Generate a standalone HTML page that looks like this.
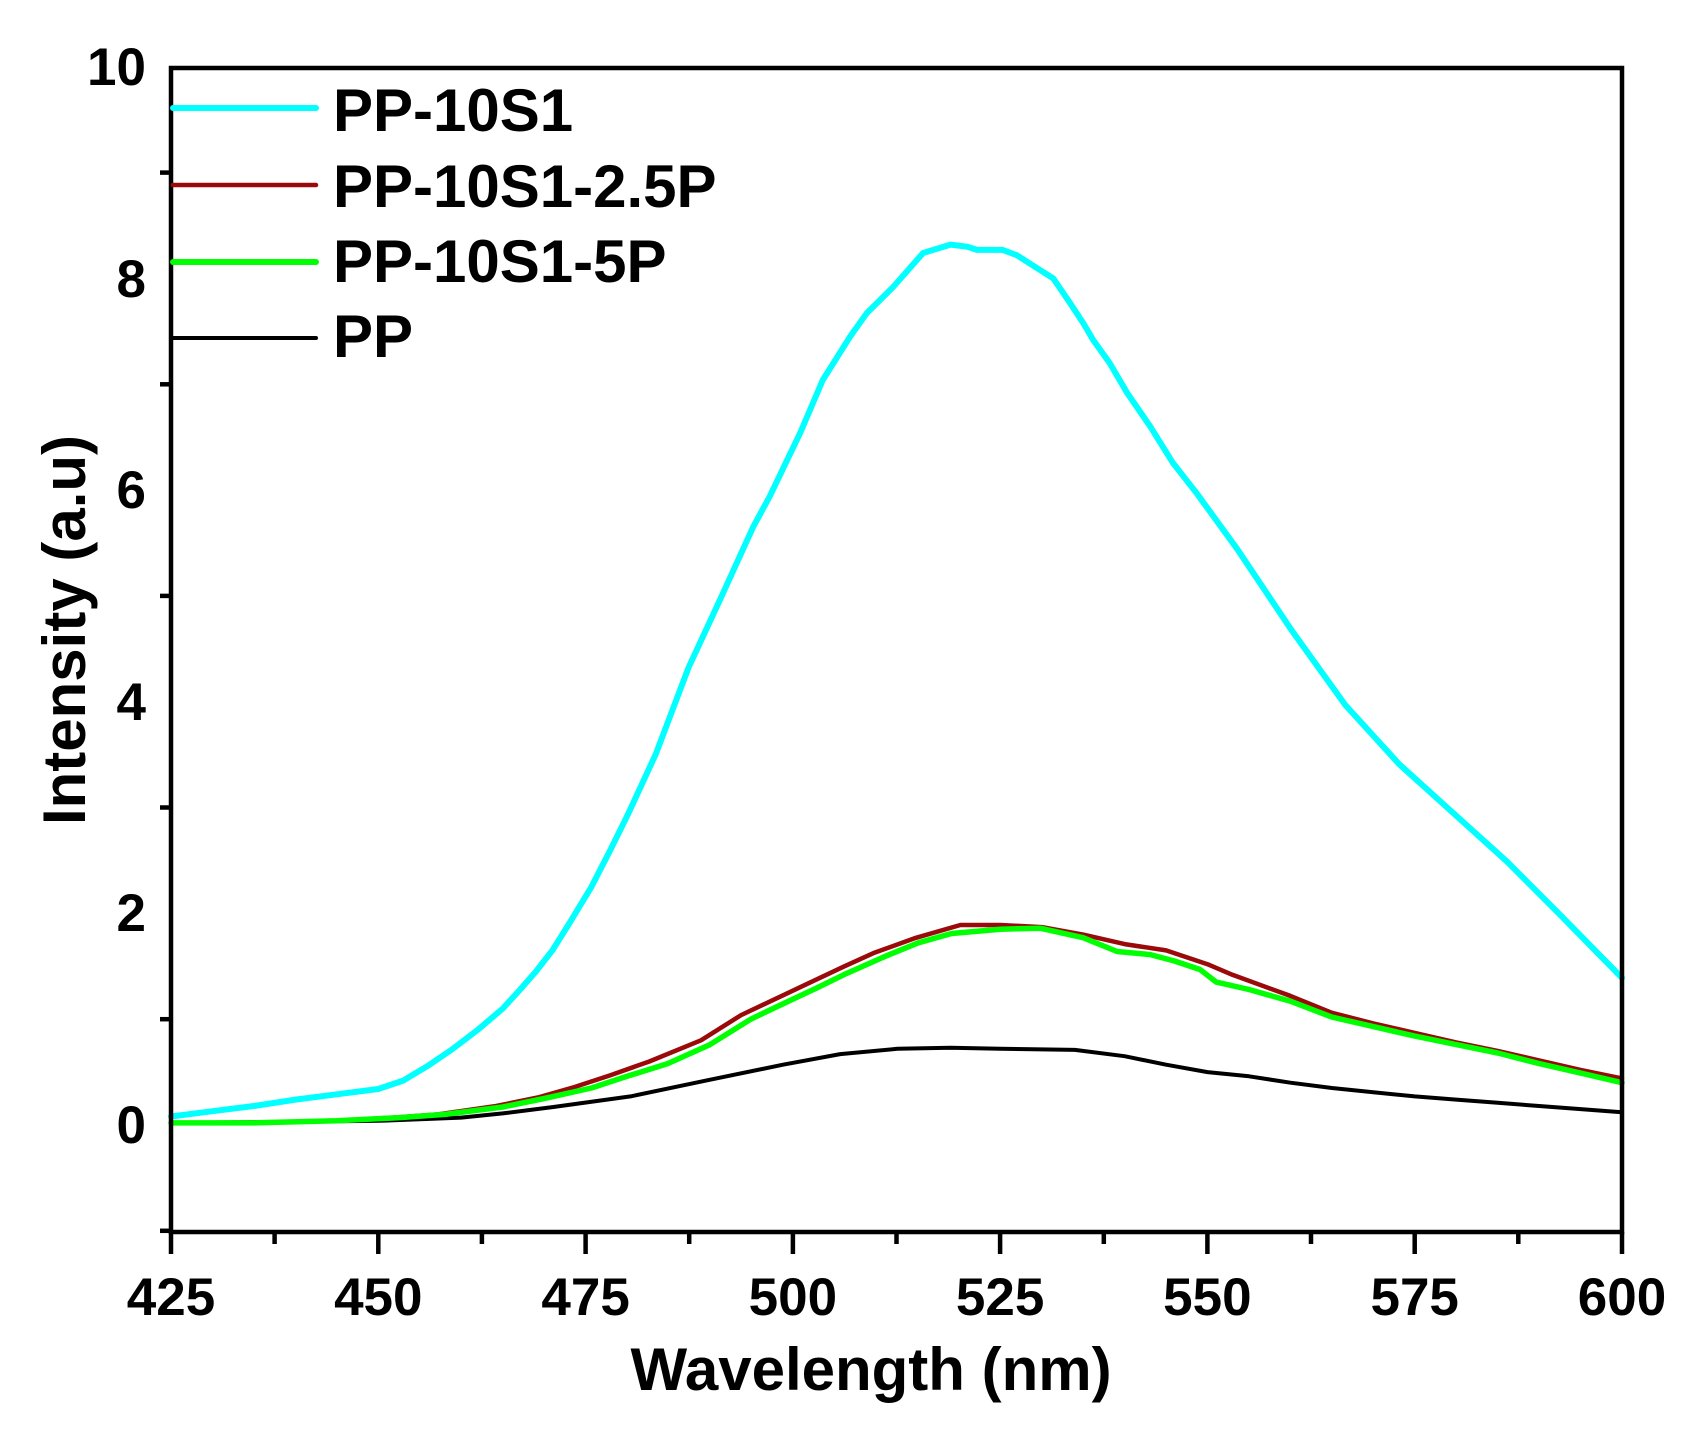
<!DOCTYPE html>
<html>
<head>
<meta charset="utf-8">
<style>
  html, body { margin: 0; padding: 0; background: #ffffff; }
  svg { display: block; }
  text { font-family: "Liberation Sans", Arial, sans-serif; font-weight: bold; fill: #000; }
</style>
</head>
<body>
<svg width="1687" height="1441" viewBox="0 0 1687 1441" xmlns="http://www.w3.org/2000/svg">
  <rect x="0" y="0" width="1687" height="1441" fill="#ffffff"/>

  <g fill="none" stroke-linejoin="round" stroke-linecap="round">
    <!-- PP (black) -->
    <polyline stroke="#000000" stroke-width="4" points="
      171,1122.9 295.4,1121.8 378.3,1120.8 461.2,1117.6 502.7,1113.4 553.4,1107.0 630.5,1096.4
      706,1080.6 783,1064.7 840.2,1054.1 897.4,1048.8 950.5,1047.8 1000.3,1048.8 1074.9,1049.9
      1124.6,1056.2 1166.1,1064.7 1207.5,1072.1 1249,1076.3 1290.4,1082.7 1331.9,1088.0
      1373.3,1092.2 1414.8,1096.4 1456.2,1099.6 1497.7,1102.8 1539.1,1106.0 1580.6,1109.1 1622,1112.3"/>
    <!-- PP-10S1 (cyan) -->
    <polyline stroke="#00ffff" stroke-width="6" points="
      171,1116.5 212.5,1111.2 253.9,1106.0 295.4,1099.6 336.8,1094.3 378.3,1089.0 403.2,1080.6
      428.1,1065.7 452.9,1048.8 477.8,1029.8 502.7,1008.6 519.3,990.5 535.8,971.6 552.4,950.4
      569,923.9 591.4,886.9 610.4,849.9 628.7,812.8 656,753.6 688.4,667.9 720.8,598.0 753.1,527.1
      769.7,496.4 800.4,432.4 822.8,380.0 850.1,336.6 866.7,313.3 893.3,286.8 923.1,253.0
      950.5,244.6 967.1,246.7 977,249.9 1002.7,249.9 1016.8,255.2 1043.3,272.1 1053.3,278.4
      1069.9,302.8 1083.1,322.9 1093.1,339.9 1109.7,363.1 1127.1,392.8 1150.3,426.6 1172.7,462.6
      1196.7,493.3 1237.4,549.3 1291.3,629.8 1345.2,704.9 1399.1,764.1 1453,812.8 1506.9,861.5
      1560.8,915.5 1622,977.9"/>
    <!-- PP-10S1-2.5P (dark red) -->
    <polyline stroke="#9a0a0a" stroke-width="4.5" points="
      171,1122.9 253.9,1122.9 336.8,1120.8 393.5,1117.6 438.3,1114.4 496.3,1106.0 537.8,1097.5
      574.6,1087.0 610.4,1075.2 649.3,1061.5 701,1040.3 741.3,1015.0 808.4,983.3 844.4,966.3
      874.7,952.6 916,937.8 960.4,925.0 1000.3,925.0 1041.7,927.1 1083.1,934.6 1124.6,944.1
      1166.1,950.4 1207.5,964.2 1232.4,974.8 1290.4,995.9 1331.9,1012.8 1373.3,1023.4
      1414.8,1032.9 1456.2,1042.5 1497.7,1050.9 1539.1,1060.4 1580.6,1070.0 1622,1078.4"/>
    <!-- PP-10S1-5P (green) -->
    <polyline stroke="#00ff00" stroke-width="5.5" points="
      171,1122.9 253.9,1122.9 336.8,1120.8 400,1117.6 444.9,1114.4 502.7,1107.0 544.2,1098.5
      591.4,1088.0 627.1,1076.3 667.7,1063.6 710,1044.6 750.8,1019.2 777.3,1006.5 818,987.4
      843.7,974.8 884.3,956.7 918.3,942.8 951.5,933.5 1000.3,929.2 1040.1,928.2 1083.1,937.7
      1117.1,951.5 1150.3,954.6 1174.4,961.0 1200,969.5 1216.2,982.1 1249,989.5 1290.4,1001.2
      1331.9,1017.1 1373.3,1026.6 1414.8,1036.1 1456.2,1044.6 1497.7,1053.0 1539.1,1063.6
      1580.6,1073.1 1622,1082.7"/>
  </g>

  <!-- axes frame -->
  <rect x="171" y="68" width="1451" height="1164" fill="none" stroke="#000" stroke-width="4.5"/>

  <!-- x ticks -->
  <g stroke="#000" stroke-width="4.5">
    <line x1="171" y1="1232" x2="171" y2="1254"/>
    <line x1="378.3" y1="1232" x2="378.3" y2="1254"/>
    <line x1="585.6" y1="1232" x2="585.6" y2="1254"/>
    <line x1="792.9" y1="1232" x2="792.9" y2="1254"/>
    <line x1="1000.1" y1="1232" x2="1000.1" y2="1254"/>
    <line x1="1207.4" y1="1232" x2="1207.4" y2="1254"/>
    <line x1="1414.7" y1="1232" x2="1414.7" y2="1254"/>
    <line x1="1622" y1="1232" x2="1622" y2="1254"/>
    <line x1="274.6" y1="1232" x2="274.6" y2="1244"/>
    <line x1="481.9" y1="1232" x2="481.9" y2="1244"/>
    <line x1="689.2" y1="1232" x2="689.2" y2="1244"/>
    <line x1="896.5" y1="1232" x2="896.5" y2="1244"/>
    <line x1="1103.8" y1="1232" x2="1103.8" y2="1244"/>
    <line x1="1311" y1="1232" x2="1311" y2="1244"/>
    <line x1="1518.3" y1="1232" x2="1518.3" y2="1244"/>
  </g>
  <!-- y minor ticks -->
  <g stroke="#000" stroke-width="4.5">
    <line x1="160" y1="1230.8" x2="171" y2="1230.8"/>
    <line x1="160" y1="1019.2" x2="171" y2="1019.2"/>
    <line x1="160" y1="807.5" x2="171" y2="807.5"/>
    <line x1="160" y1="595.9" x2="171" y2="595.9"/>
    <line x1="160" y1="384.3" x2="171" y2="384.3"/>
    <line x1="160" y1="172.6" x2="171" y2="172.6"/>
  </g>

  <!-- x tick labels -->
  <g font-size="53" text-anchor="middle">
    <text x="171" y="1315">425</text>
    <text x="378.3" y="1315">450</text>
    <text x="585.6" y="1315">475</text>
    <text x="792.9" y="1315">500</text>
    <text x="1000.1" y="1315">525</text>
    <text x="1207.4" y="1315">550</text>
    <text x="1414.7" y="1315">575</text>
    <text x="1622" y="1315">600</text>
  </g>
  <!-- y tick labels -->
  <g font-size="53" text-anchor="end">
    <text x="146" y="1143">0</text>
    <text x="146" y="931">2</text>
    <text x="146" y="720">4</text>
    <text x="146" y="508">6</text>
    <text x="146" y="297">8</text>
    <text x="146" y="85">10</text>
  </g>

  <!-- axis titles -->
  <text x="871" y="1390" font-size="60" text-anchor="middle">Wavelength (nm)</text>
  <text transform="translate(85,630) rotate(-90)" font-size="60" text-anchor="middle">Intensity (a.u)</text>

  <!-- legend -->
  <g stroke-linecap="round">
    <line x1="173" y1="108" x2="316" y2="108" stroke="#00ffff" stroke-width="6"/>
    <line x1="173" y1="185" x2="316" y2="185" stroke="#9a0a0a" stroke-width="4.5"/>
    <line x1="173" y1="262" x2="316" y2="262" stroke="#00ff00" stroke-width="6"/>
    <line x1="173" y1="338" x2="316" y2="338" stroke="#000000" stroke-width="4"/>
  </g>
  <g font-size="60">
    <text x="333" y="131">PP-10S1</text>
    <text x="333" y="207">PP-10S1-2.5P</text>
    <text x="333" y="282">PP-10S1-5P</text>
    <text x="333" y="357">PP</text>
  </g>
</svg>
</body>
</html>
